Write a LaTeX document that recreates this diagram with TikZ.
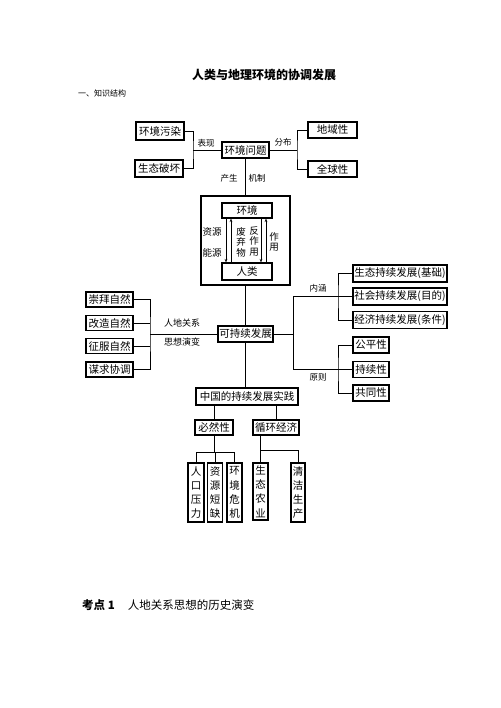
\documentclass[tikz,border=0pt]{standalone}
\usepackage{fontspec}
\setmainfont{Noto Sans CJK SC}
\usetikzlibrary{calc,arrows.meta}
\begin{document}
\begin{tikzpicture}[x=1pt,y=-1pt,
  box/.style={draw, line width=1.1pt, inner sep=0pt, font=\fontsize{10.5}{12}\selectfont},
  vbox/.style={draw, line width=1.1pt, inner sep=0pt, align=center, font=\fontsize{10.5}{14.2}\selectfont},
  lbl/.style={inner sep=0pt, font=\fontsize{8.5}{10}\selectfont},
  vlbl/.style={inner sep=0pt, align=center, font=\fontsize{9.5}{10.5}\selectfont},
  conn/.style={line width=0.75pt},
  arr/.style={line width=0.7pt, -{Stealth[length=3.5pt,width=2.6pt]}}
]
\fill[white] (0,0) rectangle (500,708);
\useasboundingbox (0,0) rectangle (500,708);

% headings
\node[inner sep=0pt, font=\fontsize{12}{14}\selectfont\bfseries] (title) at (264,75) {人类与地理环境的协调发展};
\node[inner sep=0pt, anchor=west, font=\fontsize{8}{10}\selectfont] (sec) at (78,93) {一、知识结构};

% top row
\node[box, minimum width=48, minimum height=18] (envpol) at (160,131) {环境污染};
\node[box, minimum width=48, minimum height=17] (ecodes) at (159,168.5) {生态破坏};
\node[box, minimum width=47, minimum height=16] (envprob) at (245.5,150) {环境问题};
\node[box, minimum width=49, minimum height=16] (region) at (332.5,130) {地域性};
\node[box, minimum width=49, minimum height=16] (global) at (332.5,169) {全球性};
\node[lbl] (lbshow) at (206,143) {表现};
\node[lbl] (lbdist) at (283,142) {分布};
\node[lbl] (lbprod) at (229,178) {产生};
\node[lbl] (lbmech) at (257,178) {机制};

\coordinate (jl) at (193,150);
\coordinate (jr) at (297,150);
\draw[conn] (envpol.east) -| (jl) |- (ecodes.east);
\draw[conn] (jl) -- (envprob.west);
\draw[conn] (region.west) -| (jr) |- (global.west);
\draw[conn] (envprob.east) -- (jr);

% big box
\node[draw, line width=1.1pt, inner sep=0pt, minimum width=89, minimum height=89] (big) at (245.5,240.5) {};
\node[box, minimum width=50, minimum height=15] (env) at (247,210.5) {环境};
\node[box, minimum width=50, minimum height=17] (human) at (247,271.5) {人类};
\draw[conn] (envprob.south) -- (big.north);
\draw[arr] ($(env.south)+(-21,0)$) -- ($(human.north)+(-21,0)$);
\draw[arr] ($(human.north)+(-16,0)$) -- ($(env.south)+(-16,0)$);
\draw[arr] ($(env.south)+(14,0)$) -- ($(human.north)+(14,0)$);
\draw[arr] ($(human.north)+(19,0)$) -- ($(env.south)+(19,0)$);
\node[lbl, font=\fontsize{9.5}{10}\selectfont] (lres) at (212,232) {资源};
\node[lbl, font=\fontsize{9.5}{10}\selectfont] (lene) at (212,253) {能源};
\node[vlbl] (lwaste) at (241,242) {废\\弃\\物};
\node[vlbl] (lreact) at (254,241) {反\\作\\用};
\node[vlbl] (lact) at (274,242) {作\\用};

% sustainable development
\node[box, minimum width=55, minimum height=16] (sd) at (245.5,334) {可持续发展};
\draw[conn] (big.south) -- (sd.north);

\node[box, minimum width=47, minimum height=15] (worship) at (109.5,299.5) {崇拜自然};
\node[box, minimum width=47, minimum height=15] (transf) at (109.5,323) {改造自然};
\node[box, minimum width=47, minimum height=15] (conq) at (109.5,346) {征服自然};
\node[box, minimum width=47, minimum height=15] (harm) at (109.5,369.5) {谋求协调};
\coordinate (jll) at (150,334);
\draw[conn] (worship.east) -| (jll) |- (harm.east);
\draw[conn] (transf.east) -- (transf.east -| jll);
\draw[conn] (conq.east) -- (conq.east -| jll);
\draw[conn] (jll) -- (sd.west);
\node[lbl, font=\fontsize{9}{10}\selectfont] (lrel) at (182,323.5) {人地关系};
\node[lbl, font=\fontsize{9}{10}\selectfont] (lthought) at (182,342) {思想演变};

\node[box, minimum width=94, minimum height=17] (eco) at (400,273.5) {生态持续发展(基础)};
\node[box, minimum width=94, minimum height=17] (soc) at (400,296.5) {社会持续发展(目的)};
\node[box, minimum width=94, minimum height=17] (econ) at (400,320) {经济持续发展(条件)};
\node[box, minimum width=36, minimum height=16] (fair) at (371,345) {公平性};
\node[box, minimum width=36, minimum height=16] (cont) at (371,369.5) {持续性};
\node[box, minimum width=36, minimum height=16] (common) at (371,393) {共同性};
\coordinate (jm) at (293,334);
\coordinate (jtop) at (293,296.5);
\coordinate (jbot) at (293,369.5);
\coordinate (jb1) at (338,296.5);
\coordinate (jb2) at (338,369.5);
\draw[conn] (sd.east) -- (jm);
\draw[conn] (soc.west) -- (jtop) -- (jbot) -- (cont.west);
\draw[conn] (eco.west) -| (jb1) |- (econ.west);
\draw[conn] (fair.west) -| (jb2) |- (common.west);
\node[lbl] (lmean) at (318,288) {内涵};
\node[lbl] (lprin) at (318,377.5) {原则};

% China practice
\node[box, minimum width=102, minimum height=17] (china) at (247,396.5) {中国的持续发展实践};
\draw[conn] (sd.south) -- (sd.south |- china.north);
\node[box, minimum width=38, minimum height=15] (nec) at (214,427.5) {必然性};
\node[box, minimum width=46, minimum height=15] (circ) at (276,427.5) {循环经济};
\draw[conn] (china.south -| nec.north) -- (nec.north);
\draw[conn] (china.south -| circ.north) -- (circ.north);

\node[vbox, minimum width=16, minimum height=59] (pop) at (196,492.5) {人\\口\\压\\力};
\node[vbox, minimum width=15, minimum height=59] (res) at (215,492.5) {资\\源\\短\\缺};
\node[vbox, minimum width=15, minimum height=59] (crisis) at (234.5,492.5) {环\\境\\危\\机};
\node[vbox, minimum width=15, minimum height=57] (agri) at (260.5,491.5) {生\\态\\农\\业};
\node[vbox, minimum width=14, minimum height=59] (clean) at (298,492.5) {清\\洁\\生\\产};
\coordinate (jn) at (214,452);
\coordinate (jc) at (260,450);
\draw[conn] (nec.south) -- (nec.south |- jn);
\draw[conn] (pop.north) -- (pop.north |- jn) -- (crisis.north |- jn) -- (crisis.north);
\draw[conn] (res.north) -- (res.north |- jn);
\draw[conn] (circ.south -| agri.north) -- (agri.north);
\draw[conn] (agri.north |- jc) -| (clean.north);

% footer
\node[inner sep=0pt, anchor=west, font=\fontsize{11.5}{13}\selectfont] (kd) at (82,605) {{\bfseries 考点 1}\hspace{13pt}人地关系思想的历史演变};
\end{tikzpicture}
\end{document}
